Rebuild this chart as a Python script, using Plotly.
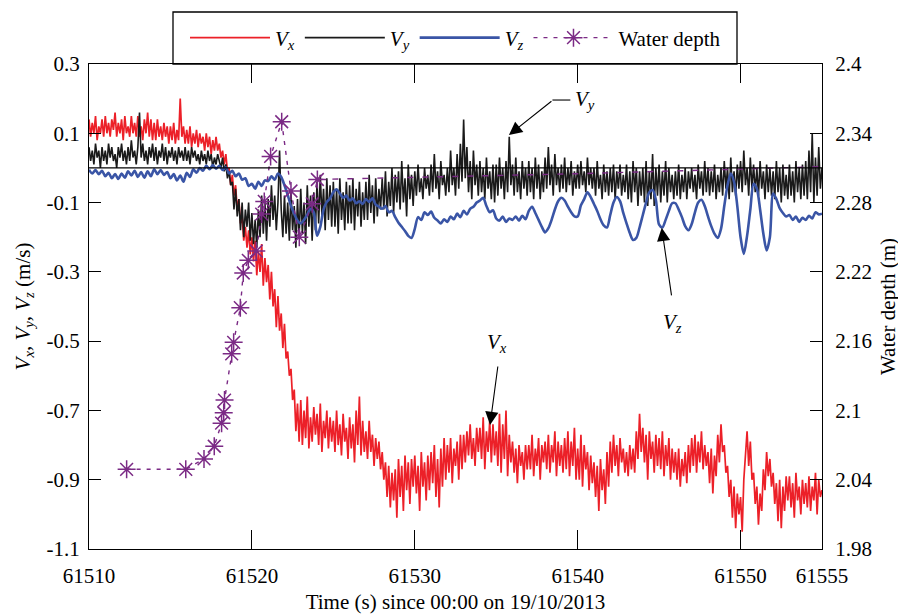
import numpy as np
import plotly.graph_objects as go

# ---------------- data ----------------
T0 = 61510.0          # first sample time (s)
DT_XY = 0.1           # sample spacing of Vx / Vy lists (s)
DT_Z = 0.2            # sample spacing of Vz list (s)

vx = [
    0.14, 0.09, 0.13, 0.10, 0.15, 0.08, 0.12, 0.10, 0.14, 0.09,
    0.15, 0.10, 0.13, 0.09, 0.14, 0.11, 0.16, 0.09, 0.13, 0.10,
    0.14, 0.08, 0.15, 0.10, 0.12, 0.09, 0.15, 0.10, 0.13, 0.09,
    0.15, 0.09, 0.12, 0.08, 0.14, 0.10, 0.16, 0.09, 0.14, 0.08,
    0.13, 0.08, 0.14, 0.09, 0.12, 0.08, 0.13, 0.09, 0.12, 0.07,
    0.12, 0.08, 0.13, 0.07, 0.11, 0.08, 0.20, 0.09, 0.12, 0.07,
    0.11, 0.07, 0.12, 0.06, 0.10, 0.07, 0.11, 0.06, 0.10, 0.07,
    0.09, 0.05, 0.10, 0.06, 0.09, 0.04, 0.08, 0.05, 0.09, 0.05,
    0.07, 0.03, 0.05, 0.01, 0.04, -0.01, 0.00, -0.05, -0.02, -0.08,
    -0.05, -0.12, -0.09, -0.16, -0.14, -0.21, -0.17, -0.23, -0.18, -0.25,
    -0.20, -0.27, -0.21, -0.31, -0.24, -0.30, -0.22, -0.34, -0.26, -0.33,
    -0.28, -0.38, -0.30, -0.40, -0.35, -0.46, -0.37, -0.47, -0.42, -0.52,
    -0.45, -0.55, -0.53, -0.60, -0.58, -0.67, -0.64, -0.76, -0.68, -0.79,
    -0.67, -0.80, -0.70, -0.78, -0.66, -0.81, -0.72, -0.79, -0.69, -0.77,
    -0.71, -0.80, -0.68, -0.82, -0.73, -0.78, -0.70, -0.81, -0.72, -0.79,
    -0.73, -0.82, -0.70, -0.80, -0.74, -0.83, -0.71, -0.79, -0.75, -0.84,
    -0.72, -0.81, -0.74, -0.85, -0.70, -0.80, -0.66, -0.83, -0.73, -0.82,
    -0.76, -0.84, -0.73, -0.82, -0.77, -0.86, -0.78, -0.84, -0.79, -0.87,
    -0.82, -0.90, -0.85, -0.95, -0.86, -0.98, -0.88, -0.96, -0.87, -1.01,
    -0.84, -0.95, -0.86, -0.99, -0.83, -0.93, -0.85, -0.97, -0.84, -0.92,
    -0.83, -0.94, -0.86, -0.99, -0.82, -0.92, -0.85, -0.96, -0.83, -0.93,
    -0.82, -0.91, -0.80, -0.95, -0.84, -0.98, -0.81, -0.92, -0.78, -0.90,
    -0.80, -0.88, -0.78, -0.91, -0.81, -0.86, -0.79, -0.90, -0.77, -0.87,
    -0.77, -0.85, -0.76, -0.83, -0.74, -0.84, -0.78, -0.86, -0.75, -0.82,
    -0.75, -0.84, -0.72, -0.87, -0.76, -0.82, -0.73, -0.85, -0.74, -0.83,
    -0.76, -0.86, -0.71, -0.88, -0.74, -0.84, -0.70, -0.89, -0.77, -0.85,
    -0.79, -0.88, -0.81, -0.91, -0.80, -0.86, -0.82, -0.90, -0.80, -0.87,
    -0.80, -0.87, -0.77, -0.89, -0.81, -0.86, -0.78, -0.90, -0.80, -0.85,
    -0.79, -0.87, -0.77, -0.88, -0.80, -0.85, -0.76, -0.89, -0.79, -0.86,
    -0.80, -0.88, -0.78, -0.87, -0.76, -0.89, -0.79, -0.86, -0.75, -0.90,
    -0.81, -0.90, -0.77, -0.92, -0.80, -0.87, -0.82, -0.93, -0.83, -0.91,
    -0.85, -0.95, -0.86, -0.99, -0.84, -0.93, -0.87, -0.97, -0.82, -0.92,
    -0.79, -0.88, -0.77, -0.86, -0.80, -0.89, -0.78, -0.85, -0.81, -0.88,
    -0.82, -0.89, -0.80, -0.87, -0.81, -0.88, -0.76, -0.84, -0.71, -0.82,
    -0.75, -0.85, -0.77, -0.90, -0.76, -0.84, -0.79, -0.88, -0.77, -0.86,
    -0.78, -0.87, -0.76, -0.89, -0.80, -0.86, -0.78, -0.90, -0.81, -0.88,
    -0.82, -0.90, -0.81, -0.92, -0.84, -0.89, -0.82, -0.91, -0.80, -0.88,
    -0.78, -0.86, -0.77, -0.88, -0.79, -0.85, -0.76, -0.87, -0.80, -0.86,
    -0.82, -0.91, -0.81, -0.94, -0.83, -0.89, -0.77, -0.85, -0.74, -0.82,
    -0.80, -0.88, -0.86, -0.95, -0.90, -1.01, -0.92, -1.04, -0.94, -1.00,
    -0.95, -1.05, -0.90, -0.83, -0.76, -0.86, -0.79, -0.90, -0.88, -0.97,
    -0.92, -1.03, -0.94, -0.99, -0.87, -0.93, -0.82, -0.89, -0.84, -0.92,
    -0.88, -0.97, -0.91, -1.02, -0.90, -1.04, -0.92, -0.99, -0.89, -0.96,
    -0.89, -0.98, -0.91, -1.01, -0.88, -0.96, -0.92, -1.00, -0.90, -0.97,
    -0.91, -0.98, -0.89, -0.99, -0.92, -0.96, -0.88, -1.00, -0.90, -0.95,
    -0.93,
]

vy = [
    0.06, 0.02, 0.05, 0.01, 0.07, 0.03, 0.05, 0.00, 0.06, 0.02,
    0.05, 0.01, 0.07, 0.03, 0.06, 0.02, 0.04, 0.00, 0.06, 0.03,
    0.07, 0.02, 0.05, 0.01, 0.06, 0.02, 0.08, 0.03, 0.05, 0.01,
    0.06, 0.16, 0.03, 0.07, 0.02, 0.05, 0.01, 0.06, 0.03, 0.07,
    0.02, 0.06, 0.01, 0.05, 0.03, 0.07, 0.02, 0.06, 0.01, 0.05,
    0.03, 0.06, 0.02, 0.05, 0.01, 0.06, 0.03, 0.05, 0.02, 0.06,
    0.02, 0.05, 0.01, 0.06, 0.03, 0.05, 0.02, 0.04, 0.01, 0.05,
    0.02, 0.04, 0.01, 0.05, 0.02, 0.04, 0.00, 0.03, 0.01, 0.04,
    0.02, 0.00, 0.03, -0.01, 0.01, -0.03, -0.01, -0.05, -0.04, -0.12,
    -0.06, -0.14, -0.09, -0.18, -0.10, -0.20, -0.12, -0.17, -0.10, -0.21,
    -0.13, -0.22, -0.15, -0.23, -0.12, -0.20, -0.08, -0.19, -0.10, -0.21,
    -0.09, -0.17, -0.05, -0.15, -0.08, -0.18, -0.10, 0.05, -0.12, -0.20,
    -0.08, -0.19, -0.10, -0.21, -0.07, -0.18, -0.11, -0.23, -0.09, -0.20,
    -0.06, -0.19, -0.10, -0.22, -0.05, -0.17, -0.08, -0.21, -0.07, -0.18,
    -0.04, -0.16, -0.02, -0.14, -0.06, -0.18, -0.03, -0.15, -0.05, -0.17,
    -0.04, -0.17, -0.06, -0.19, -0.03, -0.15, -0.07, -0.18, -0.04, -0.16,
    -0.05, -0.16, -0.03, -0.18, -0.06, -0.14, -0.04, -0.17, -0.07, -0.15,
    -0.04, -0.15, -0.02, -0.13, -0.05, -0.16, -0.03, -0.14, -0.06, -0.12,
    -0.03, -0.12, -0.01, -0.14, -0.04, -0.11, 0.00, -0.13, -0.02, -0.10,
    -0.01, -0.12, 0.02, -0.10, -0.03, -0.14, 0.01, -0.09, -0.02, -0.11,
    -0.01, -0.08, 0.01, -0.07, -0.03, -0.09, 0.00, -0.06, -0.02, -0.08,
    0.01, -0.07, 0.04, -0.06, -0.01, -0.09, 0.02, -0.05, -0.02, -0.08,
    0.00, -0.07, 0.05, -0.05, 0.00, -0.08, 0.04, -0.06, 0.07, -0.04,
    0.14, -0.03, 0.06, -0.07, 0.02, -0.09, 0.05, -0.05, 0.01, -0.08,
    0.02, -0.07, 0.00, -0.09, 0.03, -0.06, -0.01, -0.09, 0.01, -0.10,
    0.01, -0.08, 0.03, -0.06, 0.00, -0.09, 0.02, -0.07, 0.09, -0.05,
    0.01, -0.08, 0.03, -0.07, -0.01, -0.09, 0.02, -0.06, 0.00, -0.08,
    0.02, -0.07, 0.00, -0.09, 0.03, -0.06, 0.01, -0.09, -0.01, -0.07,
    0.03, -0.06, 0.06, -0.05, 0.01, -0.08, 0.04, -0.05, 0.00, -0.07,
    0.01, -0.06, 0.03, -0.07, 0.00, -0.05, 0.02, -0.08, -0.01, -0.06,
    0.01, -0.06, 0.02, -0.05, -0.01, -0.07, 0.03, -0.05, 0.00, -0.06,
    0.00, -0.08, 0.02, -0.06, -0.02, -0.09, 0.01, -0.07, -0.01, -0.08,
    0.00, -0.07, 0.01, -0.09, -0.01, -0.06, 0.01, -0.08, -0.02, -0.07,
    0.01, -0.09, -0.01, -0.10, 0.02, -0.07, 0.00, -0.11, -0.01, -0.08,
    0.00, -0.10, 0.02, -0.11, -0.01, -0.09, 0.04, -0.11, 0.00, -0.08,
    0.01, -0.10, -0.01, -0.08, 0.02, -0.10, 0.00, -0.07, -0.02, -0.09,
    -0.01, -0.08, 0.01, -0.09, -0.02, -0.07, 0.00, -0.09, -0.01, -0.06,
    0.00, -0.07, -0.02, -0.09, 0.01, -0.06, -0.01, -0.08, 0.02, -0.07,
    0.00, -0.08, -0.01, -0.07, 0.01, -0.09, -0.02, -0.07, 0.00, -0.08,
    0.02, -0.06, 0.00, -0.09, 0.03, -0.07, -0.01, -0.08, 0.01, -0.06,
    0.02, -0.07, 0.05, -0.05, 0.00, -0.08, 0.03, -0.06, 0.01, -0.07,
    0.00, -0.08, 0.02, -0.06, -0.01, -0.09, 0.01, -0.07, 0.00, -0.08,
    -0.01, -0.09, 0.02, -0.07, 0.00, -0.10, 0.01, -0.08, -0.02, -0.09,
    0.01, -0.08, -0.01, -0.10, 0.02, -0.07, 0.00, -0.09, 0.01, -0.08,
    0.02, -0.09, 0.05, -0.07, 0.10, -0.10, 0.03, -0.08, 0.06, -0.06,
    0.00,
]

vz = [
    -0.005, -0.016, -0.006, -0.018, -0.008,
    -0.024, -0.014, -0.030, -0.018, -0.032,
    -0.016, -0.028, -0.010, -0.022, -0.008,
    -0.026, -0.012, -0.028, -0.010, -0.024,
    -0.004, -0.018, -0.006, -0.020, -0.012,
    -0.030, -0.018, -0.036, -0.022, -0.040,
    -0.014, -0.026, -0.004, -0.014, 0.000,
    -0.008, 0.006, -0.004, 0.008, -0.002,
    0.006, -0.006, 0.002, -0.016, -0.008,
    -0.024, -0.016, -0.034, -0.030, -0.052,
    -0.046, -0.060, -0.040, -0.052, -0.036,
    -0.038, -0.024, -0.034, -0.016, -0.026,
    -0.050, -0.078, -0.110, -0.132, -0.152,
    -0.160, -0.150, -0.135, -0.118, -0.128,
    -0.196, -0.170, -0.120, -0.098, -0.088,
    -0.070, -0.062, -0.074, -0.086, -0.080,
    -0.094, -0.088, -0.102, -0.096, -0.104,
    -0.090, -0.098, -0.088, -0.106, -0.112,
    -0.118, -0.110, -0.128, -0.124, -0.142,
    -0.158, -0.170, -0.182, -0.196, -0.202,
    -0.176, -0.142, -0.150, -0.128, -0.136,
    -0.126, -0.144, -0.152, -0.160, -0.148,
    -0.156, -0.140, -0.148, -0.132, -0.142,
    -0.124, -0.134, -0.118, -0.112, -0.100,
    -0.094, -0.086, -0.110, -0.128, -0.122,
    -0.146, -0.152, -0.140, -0.156, -0.146,
    -0.150, -0.140, -0.152, -0.138, -0.148,
    -0.124, -0.112, -0.130, -0.150, -0.170,
    -0.186, -0.174, -0.150, -0.120, -0.096,
    -0.086, -0.094, -0.112, -0.128, -0.140,
    -0.140, -0.108, -0.090, -0.070, -0.084,
    -0.104, -0.124, -0.148, -0.166, -0.172,
    -0.136, -0.100, -0.084, -0.096, -0.130,
    -0.160, -0.188, -0.208, -0.202, -0.172,
    -0.136, -0.100, -0.070, -0.064, -0.092,
    -0.164, -0.172, -0.150, -0.124, -0.102,
    -0.102, -0.120, -0.142, -0.168, -0.180,
    -0.162, -0.128, -0.100, -0.092, -0.110,
    -0.140, -0.168, -0.190, -0.202, -0.176,
    -0.110, -0.050, -0.016, -0.040, -0.110,
    -0.200, -0.248, -0.196, -0.120, -0.046,
    -0.060, -0.120, -0.190, -0.238, -0.200,
    -0.074, -0.090, -0.116, -0.130, -0.140,
    -0.136, -0.150, -0.140, -0.156, -0.144,
    -0.150, -0.138, -0.146, -0.128, -0.134,
    -0.132,
]

depth_time = [61512.31, 61515.94, 61517.06, 61517.69, 61518.14, 61518.27,
              61518.32, 61518.76, 61518.88, 61519.29, 61519.47, 61519.78,
              61520.27, 61520.60, 61520.76, 61521.15, 61521.83, 61522.40,
              61522.91, 61523.71, 61524.02]
depth = [2.049, 2.049, 2.058, 2.069, 2.089, 2.098,
         2.109, 2.149, 2.159, 2.189, 2.219, 2.230,
         2.238, 2.270, 2.281, 2.320, 2.350, 2.290,
         2.250, 2.279, 2.300]
depth_tail_time = [61524.02, 61530.0, 61540.0, 61550.0, 61554.8]
depth_tail = [2.300, 2.302, 2.305, 2.309, 2.311]

x_ticks = [61510, 61520, 61530, 61540, 61550, 61555]
x_ticktext = ["61510", "61520", "61530", "61540", "61550", "61555"]
y_ticks = [0.3, 0.1, -0.1, -0.3, -0.5, -0.7, -0.9, -1.1]
y_ticktext = ["0.3", "0.1", "-0.1", "-0.3", "-0.5", "-0.7", "-0.9", "-1.1"]
y2_ticks = [2.4, 2.34, 2.28, 2.22, 2.16, 2.1, 2.04, 1.98]
y2_ticktext = ["2.4", "2.34", "2.28", "2.22", "2.16", "2.1", "2.04", "1.98"]

# ---------------- styling ----------------
FONT = "Liberation Serif, Times New Roman, Times, Nimbus Roman, DejaVu Serif, serif"
FS = 21
RED = "#ec2028"
BLACK = "#1a1a1a"
BLUE = "#3a55a6"
PURPLE = "#7b2a85"

t_xy = T0 + DT_XY * np.arange(len(vx))
t_y = T0 + DT_XY * np.arange(len(vy))
t_z = T0 + DT_Z * np.arange(len(vz))

fig = go.Figure()
fig.add_trace(go.Scatter(x=t_xy, y=vx, mode="lines", name="<i>V<sub>x</sub></i>",
                         line=dict(color=RED, width=1.7)))
fig.add_trace(go.Scatter(x=t_y, y=vy, mode="lines", name="<i>V<sub>y</sub></i>",
                         line=dict(color=BLACK, width=1.6)))
fig.add_trace(go.Scatter(x=t_z, y=vz, mode="lines", name="<i>V<sub>z</sub></i>",
                         line=dict(color=BLUE, width=2.6, shape="spline", smoothing=0.8)))
fig.add_trace(go.Scatter(x=depth_tail_time, y=depth_tail, mode="lines", yaxis="y2",
                         showlegend=False, legendgroup="wd",
                         line=dict(color=PURPLE, width=1.4, dash="6px,9px")))
fig.add_trace(go.Scatter(x=depth_time, y=depth, mode="lines+markers", yaxis="y2",
                         name="Water depth", legendgroup="wd",
                         line=dict(color=PURPLE, width=1.4, dash="4px,6px"),
                         marker=dict(symbol="asterisk-open", size=15,
                                     line=dict(color=PURPLE, width=1.5))))

axis_common = dict(showline=True, linecolor="black", linewidth=1.3, ticks="inside",
                   tickcolor="black", tickwidth=1.3, showgrid=False, zeroline=False,
                   tickfont=dict(family=FONT, size=FS, color="black"))

# The page body adds an 8 px offset; margins are chosen so that the plot area
# lands at x 89..822, y 64..549 in the 906x616 window.
PLOT_W, PLOT_H = 906 - 81 - 92, 616 - 56 - 75
fig.update_layout(
    width=906, height=616,
    margin=dict(l=81, r=92, t=56, b=75, autoexpand=False),
    paper_bgcolor="white", plot_bgcolor="white",
    font=dict(family=FONT, size=FS, color="black"),
    xaxis=dict(range=[61510, 61555], tickvals=x_ticks, ticktext=x_ticktext,
               mirror="ticks", ticklen=19, ticklabelstandoff=8,
               title=dict(text="Time (s) since 00:00 on 19/10/2013",
                          font=dict(family=FONT, size=FS), standoff=6),
               automargin=False, **axis_common),
    yaxis=dict(range=[-1.1, 0.3], tickvals=y_ticks, ticktext=y_ticktext,
               ticklen=12, ticklabelstandoff=4,
               title=dict(text="<i>V<sub>x</sub></i>, <i>V<sub>y</sub></i>, <i>V<sub>z</sub></i> (m/s)",
                          font=dict(family=FONT, size=FS), standoff=10),
               automargin=False, **axis_common),
    yaxis2=dict(range=[1.98, 2.4], tickvals=y2_ticks, ticktext=y2_ticktext,
                overlaying="y", side="right", ticklen=12, ticklabelstandoff=8,
                title=dict(text="Water depth (m)", font=dict(family=FONT, size=FS),
                           standoff=8),
                automargin=False, **axis_common),
    legend=dict(orientation="h", x=0.5, xanchor="center",
                y=1 + 26 / PLOT_H, yanchor="middle",
                borderwidth=0, bgcolor="rgba(0,0,0,0)",
                font=dict(family=FONT, size=FS), itemwidth=80,
                traceorder="normal"),
    showlegend=True,
)

# legend frame (taller than Plotly's own legend box)
fig.add_shape(type="rect", xref="paper", yref="paper",
              x0=(173 - 89) / PLOT_W, x1=(737 - 89) / PLOT_W,
              y0=1.0, y1=1 + 52 / PLOT_H,
              line=dict(color="black", width=1.3), fillcolor="rgba(0,0,0,0)",
              layer="above")
# zero reference line drawn on top of the traces
fig.add_shape(type="line", xref="x", yref="y", x0=61510, x1=61555, y0=0, y1=0,
              line=dict(color="black", width=1.2), layer="above")
# horizontal leader of the Vy label
fig.add_shape(type="line", xref="x", yref="y", x0=61538.45, x1=61539.55,
              y0=0.196, y1=0.196, line=dict(color="black", width=1.1), layer="above")

arrow = dict(showarrow=True, arrowhead=2, arrowsize=2.4, arrowwidth=1.1,
             arrowcolor="black", axref="pixel", ayref="pixel", text="")
fig.add_annotation(x=61535.78, y=0.095, ax=44, ay=-35, **arrow)
fig.add_annotation(x=61545.16, y=-0.173, ax=10, ay=69, **arrow)
fig.add_annotation(x=61534.62, y=-0.742, ax=8, ay=-60, **arrow)

lab = dict(showarrow=False, font=dict(family=FONT, size=FS, color="black"))
fig.add_annotation(x=61540.45, y=0.196, text="<i>V<sub>y</sub></i>", **lab)
fig.add_annotation(x=61545.85, y=-0.448, text="<i>V<sub>z</sub></i>", **lab)
fig.add_annotation(x=61535.05, y=-0.505, text="<i>V<sub>x</sub></i>", **lab)

fig.write_html("out.html")
